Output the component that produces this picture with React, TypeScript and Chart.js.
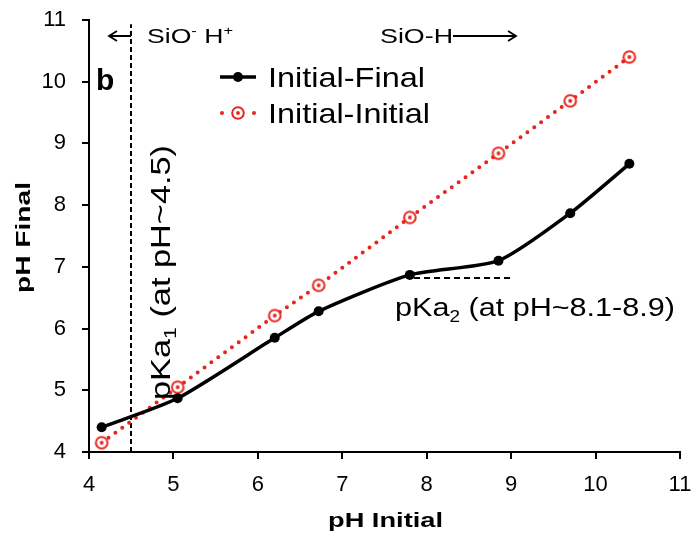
import React, { useEffect, useRef } from "react";
import { Chart, registerables } from "chart.js";

Chart.register(...registerables);

// Measured pH values
const phInitial = [4.15, 5.05, 6.2, 6.72, 7.8, 8.85, 9.7, 10.4];
const phFinal = [4.4, 4.87, 5.85, 6.28, 6.87, 7.1, 7.87, 8.67];
const phInitialRef = [4.15, 5.05, 6.21, 6.7, 7.8, 8.84, 9.69, 10.4];

// Axis ranges and ticks
const xTicks = [4, 5, 6, 7, 8, 9, 10, 11];
const yTicks = [4, 5, 6, 7, 8, 9, 10, 11];

// pKa markers
const pKa1 = 4.5;
const pKa1Top = 10.93;
const pKa2Level = 6.82;
const pKa2From = 7.85;
const pKa2To = 9.02;

const FONT = "'Liberation Sans', Arial, Helvetica, sans-serif";
const RED = "#e8251d";

type Run = { t: string; sub?: boolean; sup?: boolean };

function makeBullseye(): HTMLCanvasElement {
  const c = document.createElement("canvas");
  c.width = 16;
  c.height = 16;
  const g = c.getContext("2d")!;
  g.beginPath();
  g.arc(8, 8, 5.8, 0, Math.PI * 2);
  g.fillStyle = "#fff";
  g.fill();
  g.lineWidth = 2;
  g.strokeStyle = RED;
  g.stroke();
  g.beginPath();
  g.arc(8, 8, 1.9, 0, Math.PI * 2);
  g.fillStyle = RED;
  g.fill();
  return c;
}

function runFont(size: number, bold: boolean, r: Run) {
  const s = r.sub || r.sup ? size * 0.62 : size;
  return `${bold ? "bold " : ""}${s}px ${FONT}`;
}

// Draws a sequence of text runs along the current x axis, stretched to a given width.
function drawRuns(
  ctx: CanvasRenderingContext2D,
  runs: Run[],
  size: number,
  bold: boolean,
  width: number
) {
  let natural = 0;
  for (const r of runs) {
    ctx.font = runFont(size, bold, r);
    natural += ctx.measureText(r.t).width;
  }
  ctx.scale(width / natural, 1);
  ctx.textBaseline = "alphabetic";
  ctx.textAlign = "left";
  ctx.fillStyle = "#000";
  let x = 0;
  for (const r of runs) {
    ctx.font = runFont(size, bold, r);
    const dy = r.sub ? size * 0.24 : r.sup ? -size * 0.36 : 0;
    ctx.fillText(r.t, x, dy);
    x += ctx.measureText(r.t).width;
  }
}

function textAt(
  ctx: CanvasRenderingContext2D,
  runs: Run[],
  x: number,
  baseline: number,
  size: number,
  bold: boolean,
  width: number,
  vertical = false
) {
  ctx.save();
  ctx.translate(x, baseline);
  if (vertical) ctx.rotate(-Math.PI / 2);
  drawRuns(ctx, runs, size, bold, width);
  ctx.restore();
}

function arrow(ctx: CanvasRenderingContext2D, x0: number, x1: number, y: number) {
  const dir = x1 > x0 ? 1 : -1;
  ctx.save();
  ctx.strokeStyle = "#000";
  ctx.lineWidth = 1.8;
  ctx.beginPath();
  ctx.moveTo(x0, y);
  ctx.lineTo(x1, y);
  ctx.moveTo(x1 - dir * 8, y - 5);
  ctx.lineTo(x1, y);
  ctx.lineTo(x1 - dir * 8, y + 5);
  ctx.stroke();
  ctx.restore();
}

const overlay = {
  id: "overlay",
  beforeDatasetsDraw(chart: any) {
    const { ctx, scales } = chart;
    const xs = scales.x;
    const ys = scales.y;
    ctx.save();
    ctx.strokeStyle = "#000";
    ctx.lineWidth = 2;
    ctx.setLineDash([5, 3]);
    ctx.beginPath();
    const px = Math.round(xs.getPixelForValue(pKa1));
    ctx.moveTo(px, ys.getPixelForValue(yTicks[0]));
    ctx.lineTo(px, ys.getPixelForValue(pKa1Top));
    ctx.stroke();
    ctx.setLineDash([6, 4]);
    ctx.beginPath();
    const py = Math.round(ys.getPixelForValue(pKa2Level));
    ctx.moveTo(xs.getPixelForValue(pKa2From), py);
    ctx.lineTo(xs.getPixelForValue(pKa2To), py);
    ctx.stroke();
    ctx.restore();
  },
  afterDraw(chart: any) {
    const { ctx, scales } = chart;
    const xs = scales.x;
    const px = Math.round(xs.getPixelForValue(pKa1));

    // region labels
    arrow(ctx, px, px - 22, 36);
    textAt(ctx, [{ t: "SiO" }, { t: "-", sup: true }, { t: " H" }, { t: "+", sup: true }], 147, 43, 21, false, 86);
    textAt(ctx, [{ t: "SiO-H" }], 380, 43, 21, false, 73);
    arrow(ctx, 453, 516, 36);

    // panel letter
    ctx.save();
    ctx.font = `bold 30px ${FONT}`;
    ctx.fillStyle = "#000";
    ctx.textBaseline = "alphabetic";
    ctx.fillText("b", 96, 90);
    ctx.restore();

    // legend
    ctx.save();
    ctx.strokeStyle = "#000";
    ctx.lineWidth = 3.5;
    ctx.beginPath();
    ctx.moveTo(220, 77);
    ctx.lineTo(256, 77);
    ctx.stroke();
    ctx.beginPath();
    ctx.arc(238, 77, 5, 0, Math.PI * 2);
    ctx.fillStyle = "#000";
    ctx.fill();
    ctx.fillStyle = RED;
    for (const dx of [222, 254]) {
      ctx.beginPath();
      ctx.arc(dx, 113, 2, 0, Math.PI * 2);
      ctx.fill();
    }
    ctx.drawImage(bullseye, 230, 105);
    ctx.restore();
    textAt(ctx, [{ t: "Initial-Final" }], 268, 87, 28, false, 157);
    textAt(ctx, [{ t: "Initial-Initial" }], 268, 123, 28, false, 162);

    // pKa annotations
    textAt(ctx, [{ t: "pKa" }, { t: "1", sub: true }, { t: " (at pH~4.5)" }], 170, 400, 27, false, 255, true);
    textAt(ctx, [{ t: "pKa" }, { t: "2", sub: true }, { t: " (at pH~8.1-8.9)" }], 395, 316, 26, false, 280);

    // axis titles
    textAt(ctx, [{ t: "pH Initial" }], 328, 527, 21, true, 115);
    textAt(ctx, [{ t: "pH Final" }], 30, 293, 21, true, 111, true);
  },
};

const bullseye = makeBullseye();

// drop the automatic label overhang padding so layout.padding sets the plot edges
function clearScalePadding(s: any) {
  s.paddingTop = 0;
  s.paddingBottom = 0;
  s.paddingLeft = 0;
  s.paddingRight = 0;
}

export default function App() {
  const ref = useRef<HTMLCanvasElement | null>(null);

  useEffect(() => {
    if (!ref.current) return;
    const axisCommon = {
      type: "linear" as const,
      grid: {
        drawOnChartArea: false,
        drawTicks: true,
        tickLength: 7,
        color: "#000",
        lineWidth: 2,
      },
      border: { display: true, color: "#000", width: 2 },
    };
    const chart = new Chart(ref.current, {
      type: "line",
      data: {
        datasets: [
          {
            label: "Initial-Final",
            data: phInitial.map((x, i) => ({ x, y: phFinal[i] })),
            borderColor: "#000",
            backgroundColor: "#000",
            borderWidth: 3.5,
            pointRadius: 5,
            pointBackgroundColor: "#000",
            pointBorderWidth: 0,
            tension: 0.22,
          },
          {
            label: "Initial-Initial",
            data: phInitial.map((x, i) => ({ x, y: phInitialRef[i] })),
            borderColor: RED,
            backgroundColor: RED,
            borderWidth: 4,
            borderDash: [0, 8.5],
            borderCapStyle: "round",
            pointStyle: bullseye,
            tension: 0,
          },
        ],
      },
      options: {
        animation: false,
        responsive: true,
        maintainAspectRatio: false,
        layout: { padding: { left: 0, top: 20, right: 16, bottom: 0 } },
        plugins: { legend: { display: false }, tooltip: { enabled: false } },
        scales: {
          x: {
            ...axisCommon,
            min: xTicks[0],
            max: xTicks[xTicks.length - 1],
            ticks: { stepSize: 1, color: "#000", padding: 13, font: { family: FONT, size: 22 } },
            afterFit: (s: any) => {
              s.height = 85;
              clearScalePadding(s);
            },
          },
          y: {
            ...axisCommon,
            min: yTicks[0],
            max: yTicks[yTicks.length - 1],
            ticks: { stepSize: 1, color: "#000", padding: 16, font: { family: FONT, size: 22 } },
            afterFit: (s: any) => {
              s.width = 89;
              clearScalePadding(s);
            },
          },
        },
      } as any,
      plugins: [overlay],
    });
    return () => chart.destroy();
  }, []);

  return (
    <div style={{ position: "absolute", left: 0, top: 0, width: 696, height: 537, background: "#fff" }}>
      <canvas ref={ref} />
    </div>
  );
}
